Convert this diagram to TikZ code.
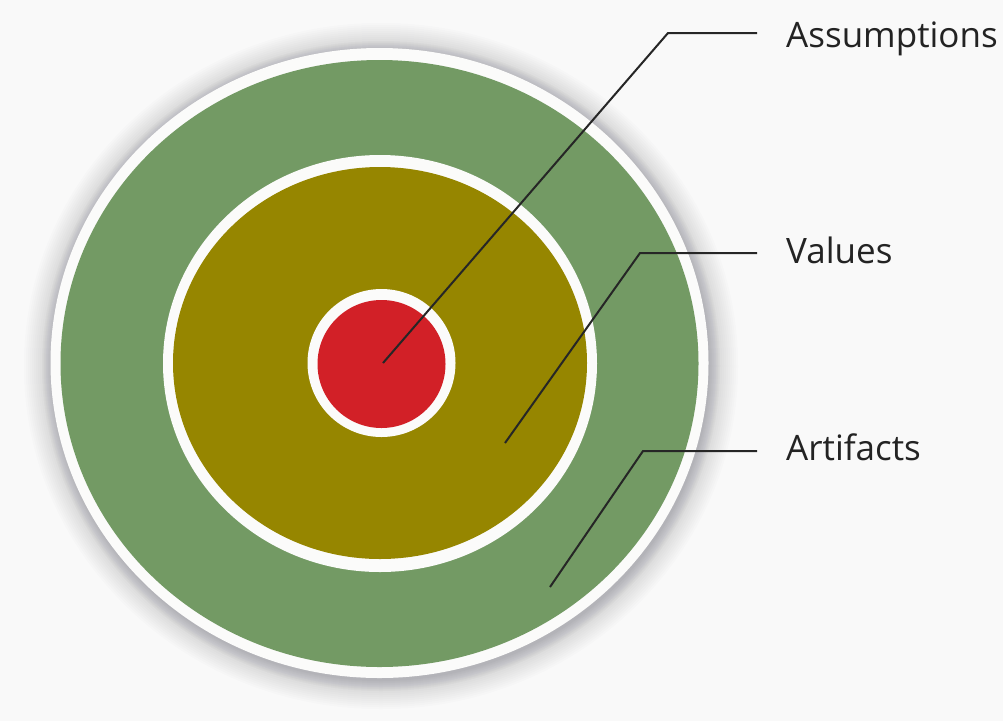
\documentclass[tikz,border=0pt]{standalone}
\usepackage{fontspec}
\setmainfont{Open Sans}
\definecolor{bgc}{RGB}{249,249,249}
\definecolor{ringgreen}{RGB}{115,154,100}
\definecolor{olive}{RGB}{150,134,0}
\definecolor{corered}{RGB}{210,32,39}
\definecolor{ringwhite}{RGB}{251,251,250}
\definecolor{shadowc}{RGB}{70,70,85}
\definecolor{textc}{RGB}{35,35,35}
\begin{document}
\begin{tikzpicture}[x=1pt,y=-1pt,
  lbl/.style={font=\fontsize{35}{42}\selectfont, text=textc, inner sep=0pt},
  conn/.style={draw=black!85, line width=2pt, line join=miter}]
\useasboundingbox (0,0) rectangle (1003,721);
\fill[bgc] (0,0) rectangle (1003,721);
% drop shadow (soft, layered)
\foreach \k in {0,2,...,28}{
  \fill[shadowc, opacity=0.016] (381,366) ellipse [x radius=329+\k, y radius=315+\k];
}
\foreach \k in {0,...,10}{
  \fill[shadowc, opacity=0.014] (381,366) ellipse [x radius=329+\k, y radius=315+\k];
}
% rings
\fill[ringwhite] (379.5,363) ellipse [x radius=329, y radius=315];
\fill[ringgreen] (379.5,363.5) ellipse [x radius=319, y radius=303.5];
\fill[ringwhite] (380,363.5) ellipse [x radius=217, y radius=208.5];
\fill[olive] (380,363) ellipse [x radius=207, y radius=196];
\fill[ringwhite] (381.5,363) circle [radius=74];
\fill[corered] (381.5,364) circle [radius=64];
% connector points
\coordinate (core) at (383,363);
\coordinate (abend) at (668,33);
\coordinate (aend) at (757,33);
\coordinate (vstart) at (505,443);
\coordinate (vbend) at (640,253);
\coordinate (vend) at (757,253);
\coordinate (fstart) at (550,587);
\coordinate (fbend) at (643,451);
\coordinate (fend) at (757,451);
% labels
\node[lbl, anchor=base west] (assump) at (786,47) {Assumptions};
\node[lbl, anchor=base west] (values) at (786,263) {Values};
\node[lbl, anchor=base west] (artif) at (786,460) {Artifacts};
% connectors
\draw[conn] (core) -- (abend) -- (aend);
\draw[conn] (vstart) -- (vbend) -- (vend);
\draw[conn] (fstart) -- (fbend) -- (fend);
\end{tikzpicture}
\end{document}
